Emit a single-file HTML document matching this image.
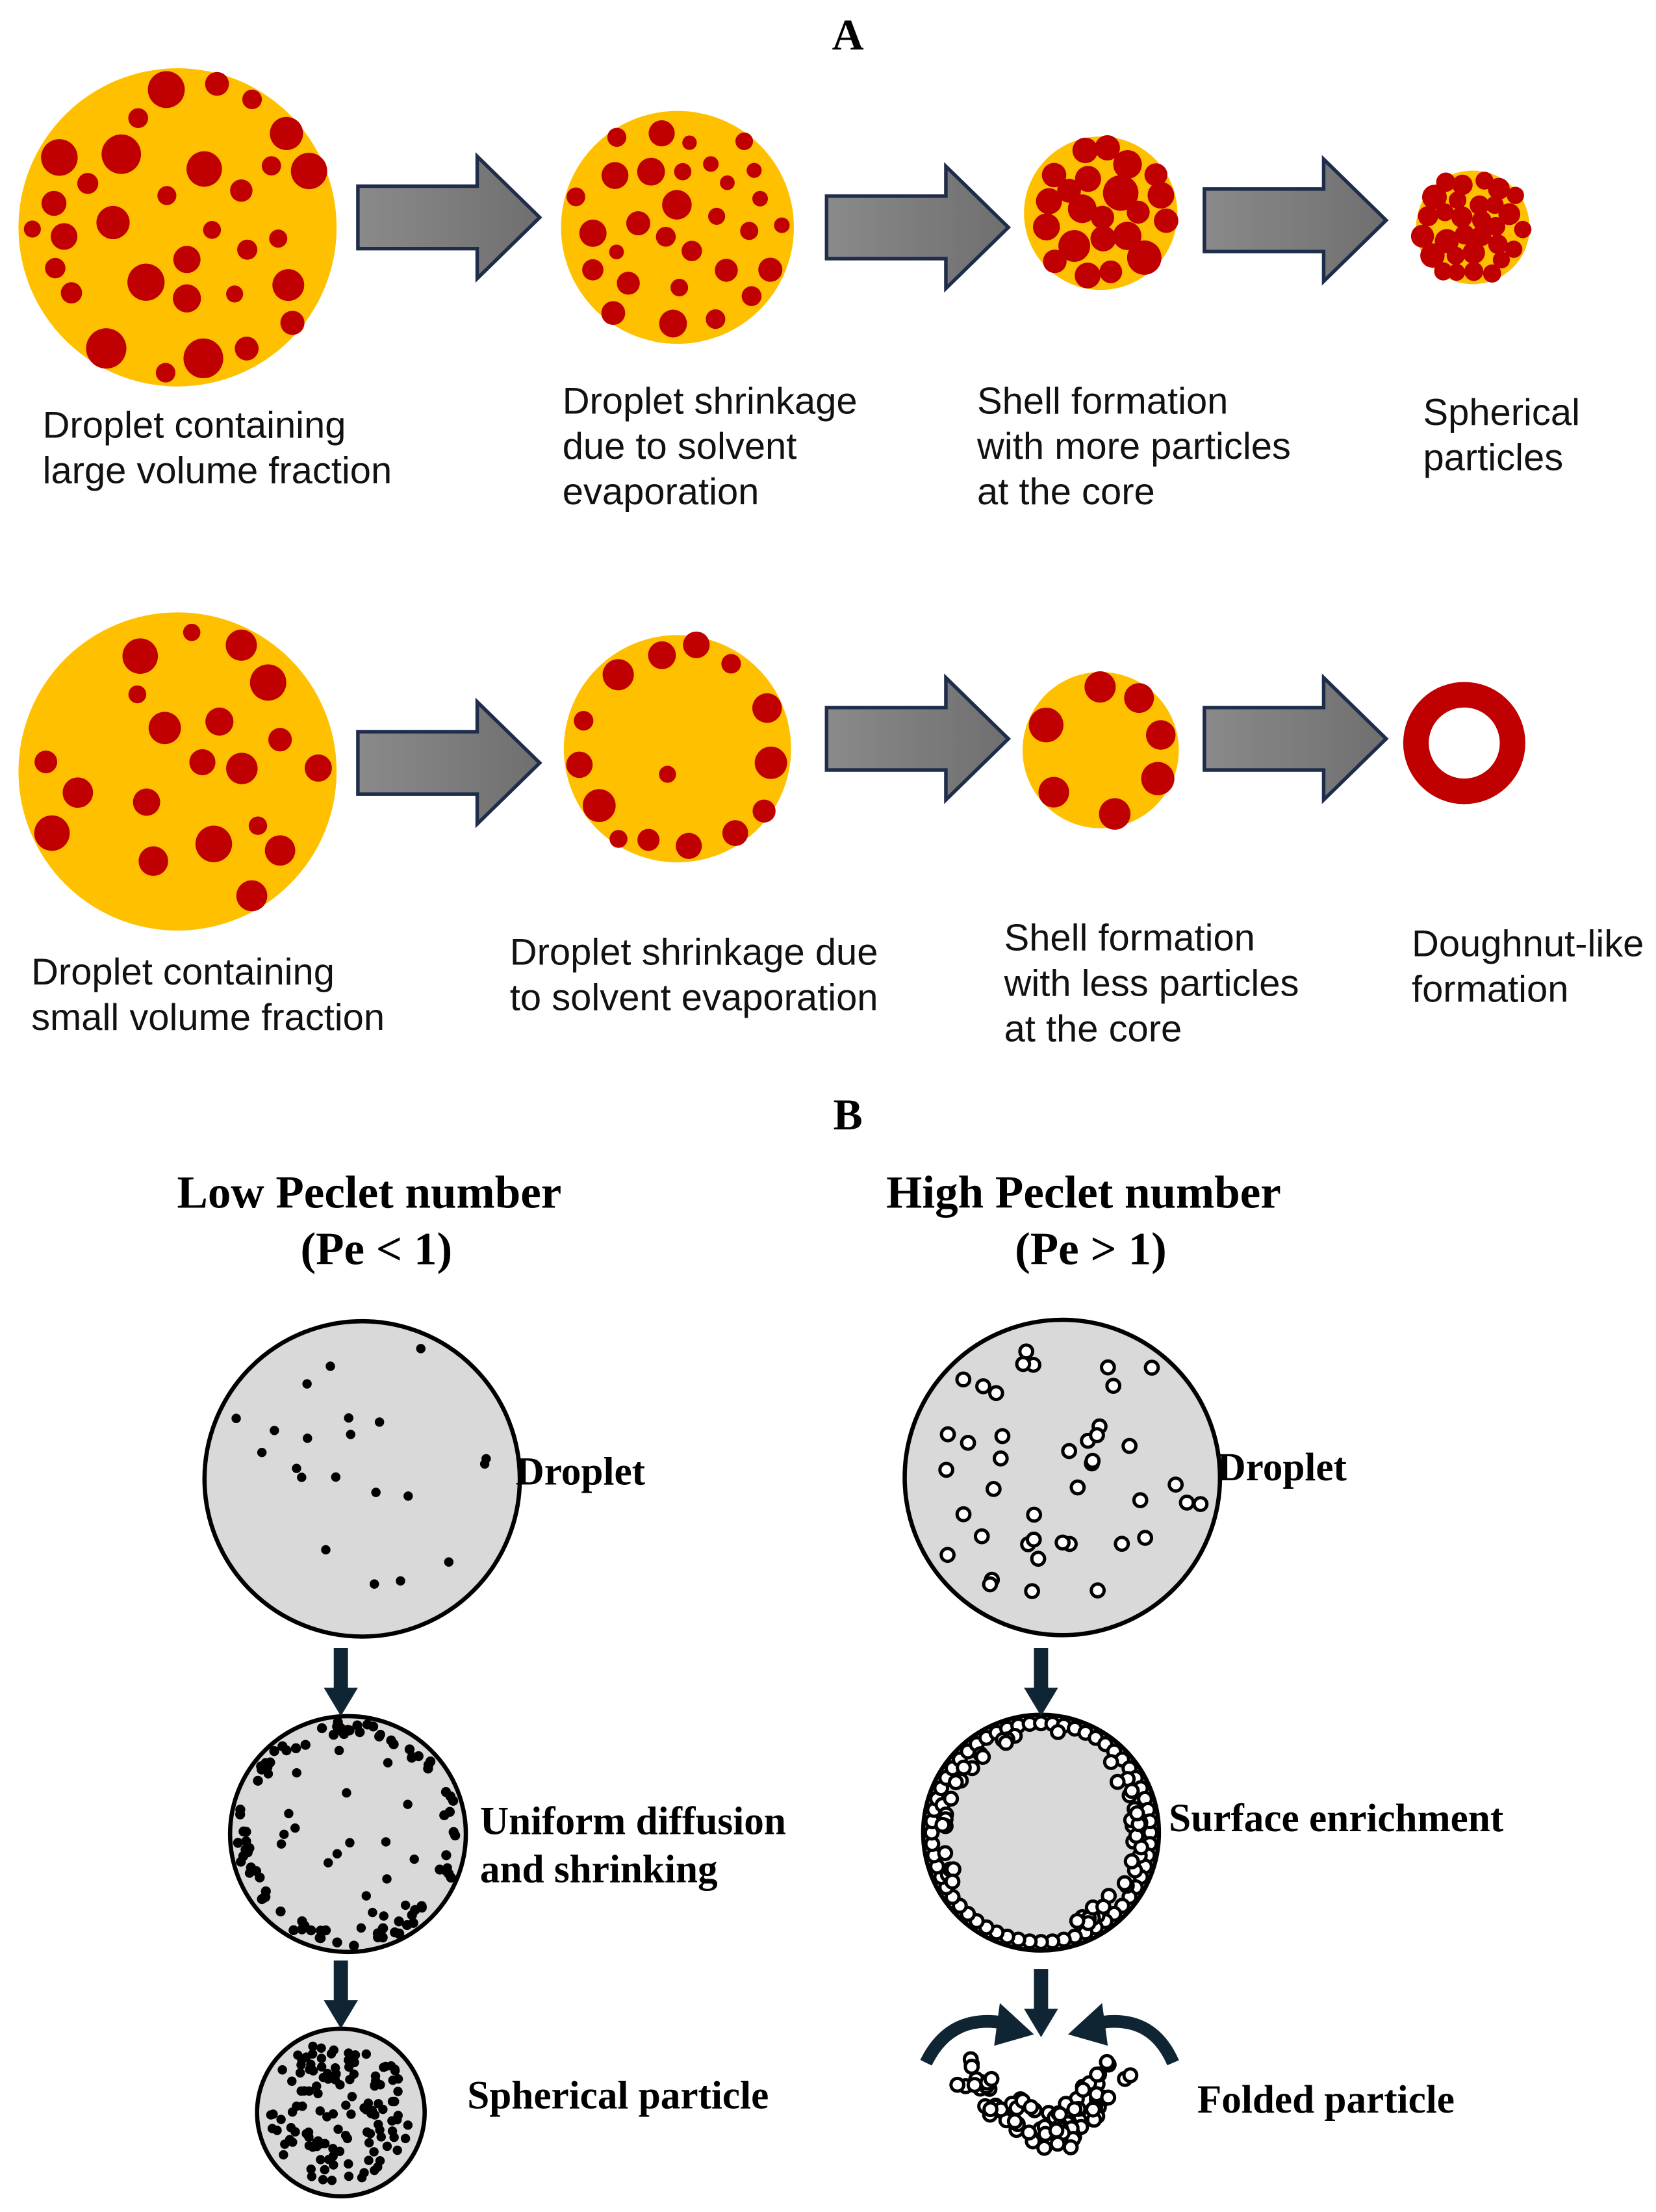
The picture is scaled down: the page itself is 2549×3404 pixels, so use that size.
<!DOCTYPE html>
<html><head><meta charset="utf-8"><style>
html,body{margin:0;padding:0;background:#fff;}
svg{display:block;}
.s{font-family:"Liberation Sans",sans-serif;font-size:26.5px;fill:#111;}
.b{font-family:"Liberation Serif",serif;font-weight:bold;fill:#000;}
</style></head><body>
<svg id="sv" xmlns="http://www.w3.org/2000/svg" width="2549" height="3404" viewBox="0 0 1166 1557">
<defs>
<linearGradient id="ag" x1="0" y1="0" x2="1" y2="0"><stop offset="0" stop-color="#8a8a8a"/><stop offset="1" stop-color="#6f6f6f"/></linearGradient>
</defs>
<rect width="1166" height="1557" fill="#fff"/>
<text x="597" y="35" class="b" font-size="31" text-anchor="middle">A</text>
<text x="597" y="795" class="b" font-size="31" text-anchor="middle">B</text>

<g id="arrows" fill="url(#ag)" stroke="#1f2d4a" stroke-width="2.5"></g>

<circle cx="125" cy="160" r="112" fill="#FFC000"/>
<circle cx="477" cy="160" r="82" fill="#FFC000"/>
<circle cx="775" cy="150" r="54" fill="#FFC000"/>
<circle cx="1037" cy="160" r="40" fill="#FFC000"/>
<circle cx="125" cy="543" r="112" fill="#FFC000"/>
<circle cx="477" cy="527" r="80" fill="#FFC000"/>
<circle cx="775" cy="528" r="55" fill="#FFC000"/>
<circle cx="1031" cy="523" r="34" fill="none" stroke="#C00000" stroke-width="18"/>
<g id="red" fill="#C00000"></g>

<text class="s"><tspan x="30" y="308">Droplet containing</tspan><tspan x="30" y="340">large volume fraction</tspan></text>
<text class="s"><tspan x="396" y="291">Droplet shrinkage</tspan><tspan x="396" y="323">due to solvent</tspan><tspan x="396" y="355">evaporation</tspan></text>
<text class="s"><tspan x="688" y="291">Shell formation</tspan><tspan x="688" y="323">with more particles</tspan><tspan x="688" y="355">at the core</tspan></text>
<text class="s"><tspan x="1002" y="299">Spherical</tspan><tspan x="1002" y="331">particles</tspan></text>
<text class="s"><tspan x="22" y="693">Droplet containing</tspan><tspan x="22" y="725">small volume fraction</tspan></text>
<text class="s"><tspan x="359" y="679">Droplet shrinkage due</tspan><tspan x="359" y="711">to solvent evaporation</tspan></text>
<text class="s"><tspan x="707" y="669">Shell formation</tspan><tspan x="707" y="701">with less particles</tspan><tspan x="707" y="733">at the core</tspan></text>
<text class="s"><tspan x="994" y="673">Doughnut-like</tspan><tspan x="994" y="705">formation</tspan></text>

<text class="b" font-size="32.5" text-anchor="middle"><tspan x="260" y="850">Low Peclet number</tspan><tspan x="265" y="890">(Pe &lt; 1)</tspan></text>
<text class="b" font-size="32.5" text-anchor="middle"><tspan x="763" y="850">High Peclet number</tspan><tspan x="768" y="890">(Pe &gt; 1)</tspan></text>

<circle cx="255" cy="1041" r="111" fill="#d9d9d9" stroke="#000" stroke-width="3"/>
<circle cx="245" cy="1291" r="83" fill="#d9d9d9" stroke="#000" stroke-width="3"/>
<circle cx="240" cy="1487" r="59" fill="#d9d9d9" stroke="#000" stroke-width="3"/>
<circle cx="748" cy="1040" r="111" fill="#d9d9d9" stroke="#000" stroke-width="3"/>
<circle cx="733" cy="1290" r="83" fill="#d9d9d9" stroke="#000" stroke-width="3"/>
<g id="dots" fill="#000"></g>
<g id="rings" fill="#fff" stroke="#000" stroke-width="2.3"></g>

<g fill="#0f2533">
<rect x="235" y="1160" width="10" height="30"/><polygon points="228,1188 252,1188 240,1208"/>
<rect x="235" y="1380" width="10" height="30"/><polygon points="228,1408 252,1408 240,1428"/>
<rect x="728" y="1160" width="10" height="30"/><polygon points="721,1188 745,1188 733,1208"/>
<rect x="728" y="1386" width="10" height="30"/><polygon points="721,1414 745,1414 733,1434"/>
</g>
<g fill="none" stroke="#0f2533" stroke-width="9">
<path d="M652,1452 Q670,1415 712,1425"/>
<path d="M826,1452 Q810,1415 768,1425"/>
</g>
<polygon points="704,1410 728,1432 700,1440" fill="#0f2533"/>
<polygon points="776,1410 752,1432 780,1440" fill="#0f2533"/>

<text class="b" font-size="28"><tspan x="363" y="1045">Droplet</tspan></text>
<text class="b" font-size="28"><tspan x="338" y="1291">Uniform diffusion</tspan><tspan x="338" y="1325">and shrinking</tspan></text>
<text class="b" font-size="28"><tspan x="329" y="1484">Spherical particle</tspan></text>
<text class="b" font-size="28"><tspan x="857" y="1042">Droplet</tspan></text>
<text class="b" font-size="28"><tspan x="823" y="1289">Surface enrichment</tspan></text>
<text class="b" font-size="28"><tspan x="843" y="1487">Folded particle</tspan></text>
</svg>
<script>
(function(){
var NS="http://www.w3.org/2000/svg";
var seed=12345;function r(){seed=(seed*16807)%2147483647;return (seed-1)/2147483646;}
function c(g,x,y,rad){var e=document.createElementNS(NS,"circle");e.setAttribute("cx",x.toFixed(1));e.setAttribute("cy",y.toFixed(1));e.setAttribute("r",rad.toFixed(1));document.getElementById(g).appendChild(e);}
var ag=document.getElementById("arrows");
[[252,153],[582,160],[848,155],[252,537],[582,520],[848,520]].forEach(function(a){
var x=a[0],y=a[1];var p=document.createElementNS(NS,"polygon");
p.setAttribute("points",[x,y-22,x+84,y-22,x+84,y-43,x+128,y,x+84,y+43,x+84,y+22,x,y+22].join(","));ag.appendChild(p);});
function fill(cx,cy,R,n,rmin,rmax,tries,mode){
var placed=[];
for(var t=0;t<tries&&placed.length<n;t++){
var rad=rmin+r()*(rmax-rmin);var ang=r()*Math.PI*2;var d;
if(mode=="shell") d=R-rad*0.6-r()*8; else d=Math.sqrt(r())*(R-rad+2);
var x=cx+d*Math.cos(ang),y=cy+d*Math.sin(ang);var ok=true;
for(var i=0;i<placed.length;i++){var q=placed[i];if(Math.hypot(q[0]-x,q[1]-y)<q[2]+rad+(mode=="dense"?-3:6)){ok=false;break;}}
if(ok){placed.push([x,y,rad]);c("red",x,y,rad);}}
}
fill(125,160,112,32,6,15,3000);
fill(477,160,82,30,5,11,3000);
fill(775,150,54,30,8,13,4000,"dense");
fill(1037,160,42,40,6,9,5000,"dense");
fill(125,543,112,20,6,14,3000);
fill(477,527,80,20,6,12,3000,"shell");c("red",470,545,6);
fill(775,528,55,12,10,13,3000,"shell");
function dots(cx,cy,R,n,rad,mode){for(var i=0;i<n;i++){var ang=r()*Math.PI*2;var d=mode=="edge"?R-4-r()*10:Math.sqrt(r())*(R-8);c("dots",cx+d*Math.cos(ang),cy+d*Math.sin(ang),rad);}}
dots(255,1041,111,21,3.3);
dots(245,1291,83,25,3.3);dots(245,1291,83,90,3.5,"edge");
dots(240,1487,59,130,3.3);
function ring(x,y){var e=document.createElementNS(NS,"circle");e.setAttribute("cx",x.toFixed(1));e.setAttribute("cy",y.toFixed(1));e.setAttribute("r","4.5");document.getElementById("rings").appendChild(e);}
for(var i=0;i<42;i++){var ang=r()*Math.PI*2,d=Math.sqrt(r())*100;ring(748+d*Math.cos(ang),1040+d*Math.sin(ang));}
for(var i=0;i<60;i++){var ang=i/60*Math.PI*2;ring(733+77*Math.cos(ang),1290+77*Math.sin(ang));}
for(var i=0;i<30;i++){var ang=(-0.5+r()*1.2)*Math.PI*0.6;var d=64+r()*8;ring(733+d*Math.cos(ang),1290+d*Math.sin(ang));}
for(var i=0;i<22;i++){var ang=(0.8+r()*0.8)*Math.PI;var d=66+r()*6;ring(733+d*Math.cos(ang),1290+d*Math.sin(ang));}
// folded particle: V shape
for(var i=0;i<40;i++){var t=r();var x=677+t*(745-677);var y=1460+t*(1505-1460);var o=(r()-0.5)*24;ring(x+o*0.5,y-o);}
for(var i=0;i<42;i++){var t=r();var x=790+t*(745-790);var y=1452+t*(1505-1452);var o=(r()-0.5)*24;ring(x-o*0.6,y-o*0.8);}
for(var i=0;i<8;i++){ring(735+r()*22,1498+r()*14);}
})();
</script>
</body></html>
